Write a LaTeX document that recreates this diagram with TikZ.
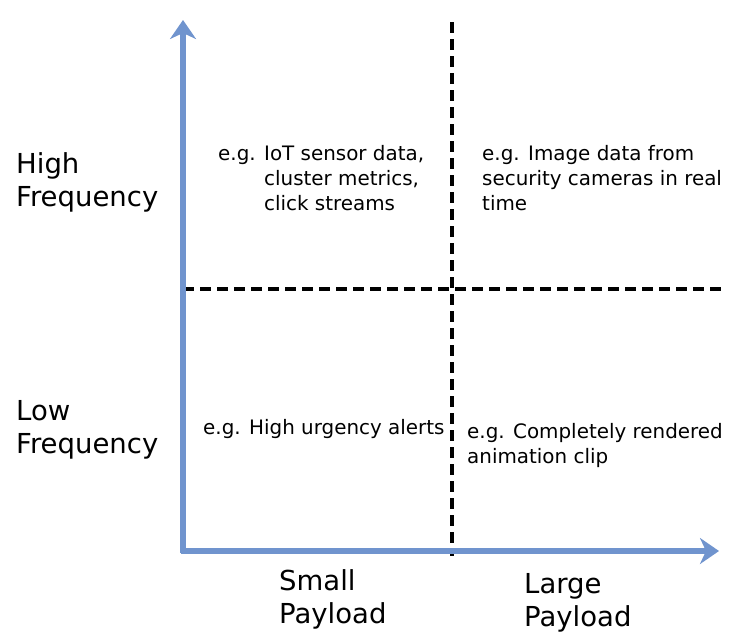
\documentclass[tikz,border=0pt]{standalone}
\usepackage{fontspec}
\setmainfont{DejaVu Sans}
\usetikzlibrary{arrows.meta}
\definecolor{axisblue}{RGB}{112,148,206}
\begin{document}
\begin{tikzpicture}[x=1pt,y=-1pt,
  axis/.style={draw=axisblue,line width=5.5pt,-{Stealth[length=19pt,width=26pt,inset=6pt]}},
  divider/.style={draw=black,line width=4.2pt,dash pattern=on 11pt off 6pt},
  axislabel/.style={font=\fontsize{27.5}{32.5}\selectfont,anchor=base west,align=left,inner sep=0pt},
  quad/.style={font=\fontsize{19.9}{25}\selectfont,anchor=base west,align=left,inner sep=0pt}]
\useasboundingbox (0,0) rectangle (743,643);
\coordinate (origin) at (183,553);
\coordinate (ytip) at (183,20);
\coordinate (xstart) at (181,551);
\coordinate (xtip) at (719,551);
\coordinate (hl) at (183,289);
\coordinate (hr) at (721,289);
\coordinate (vt) at (452,22);
\coordinate (vb) at (452,556);
\draw[divider] (hl) -- (hr);
\draw[divider] (vt) -- (vb);
\draw[axis] (origin) -- (ytip);
\draw[axis] (xstart) -- (xtip);
\node[axislabel] (high) at (16,206) {High\\Frequency};
\node[axislabel] (low) at (16,453) {Low\\Frequency};
\node[axislabel] (small) at (279,623) {Small\\Payload};
\node[axislabel] (large) at (524,626) {Large\\Payload};
\node[quad] (q1a) at (218,160) {e.g. IoT sensor data,};
\node[quad] (q1b) at (264,210) {cluster metrics,\\click streams};
\node[quad] (q2) at (482,210) {e.g. Image data from\\security cameras in real\\time};
\node[quad] (q3) at (203,434) {e.g. High urgency alerts};
\node[quad] (q4) at (467,463) {e.g. Completely rendered\\animation clip};
\end{tikzpicture}
\end{document}
